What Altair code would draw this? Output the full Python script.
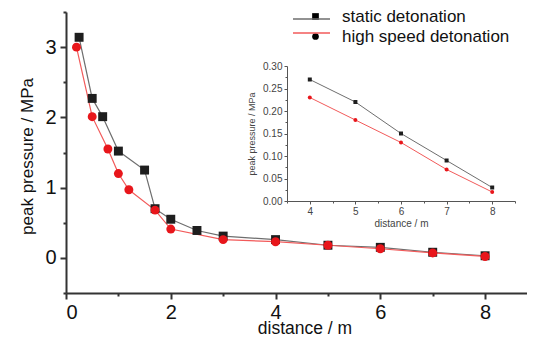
import altair as alt
import pandas as pd

series_names = ["static detonation", "high speed detonation"]
series_colors_line = ["#6e6e6e", "#f25a5a"]
series_colors_point = ["#1e1e1e", "#e8161b"]
series_shapes = ["square", "circle"]

static_x = [0.25, 0.5, 0.7, 1.0, 1.5, 1.7, 2.0, 2.5, 3, 4, 5, 6, 7, 8]
static_y = [3.14, 2.27, 2.01, 1.52, 1.25, 0.70, 0.55, 0.39, 0.31, 0.26, 0.18, 0.15, 0.08, 0.03]
high_x = [0.2, 0.5, 0.8, 1.0, 1.2, 1.7, 2.0, 3, 4, 5, 6, 7, 8]
high_y = [3.00, 2.01, 1.55, 1.20, 0.97, 0.68, 0.41, 0.26, 0.23, 0.18, 0.13, 0.07, 0.02]

inset_x = [4, 5, 6, 7, 8]
inset_static_y = [0.27, 0.22, 0.15, 0.09, 0.03]
inset_high_y = [0.23, 0.18, 0.13, 0.07, 0.02]

main_x_ticks = [0, 1, 2, 3, 4, 5, 6, 7, 8]
main_y_ticks = [-0.5, 0, 0.5, 1, 1.5, 2, 2.5, 3, 3.5]
inset_x_ticks = [3.5, 4, 4.5, 5, 5.5, 6, 6.5, 7, 7.5, 8, 8.5]
inset_y_ticks = [0, 0.025, 0.05, 0.075, 0.1, 0.125, 0.15, 0.175, 0.2, 0.225, 0.25, 0.275, 0.3]

NARROW = "Liberation Sans Narrow, Arial Narrow, Liberation Sans, Arial"
REG = "Liberation Sans, Arial"

main_df = pd.concat([
    pd.DataFrame({"x": static_x, "y": static_y, "series": series_names[0], "ord": 0}),
    pd.DataFrame({"x": high_x, "y": high_y, "series": series_names[1], "ord": 1}),
], ignore_index=True)
inset_df = pd.concat([
    pd.DataFrame({"x": inset_x, "y": inset_static_y, "series": series_names[0], "ord": 0}),
    pd.DataFrame({"x": inset_x, "y": inset_high_y, "series": series_names[1], "ord": 1}),
], ignore_index=True)

line_color_scale = alt.Scale(domain=series_names, range=series_colors_line)
fill_scale = alt.Scale(domain=series_names, range=series_colors_point)
shape_scale = alt.Scale(domain=series_names, range=series_shapes)

main_x_axis = alt.Axis(
    values=main_x_ticks, grid=False, title="distance / m",
    labelExpr="datum.value % 2 == 0 ? format(datum.value, 'd') : ''",
    tickSize={"condition": {"test": "datum.value % 2 == 0", "value": 6}, "value": 3},
    labelFont=NARROW, labelFontSize=20, labelColor="#111", labelPadding=3,
    titleFont=REG, titleFontSize=17.5, titleFontWeight="normal", titleColor="#111",
    titleX=238.5, titleY=40, titleBaseline="alphabetic",
    domainColor="#333", domainWidth=2, tickColor="#333", tickWidth=2,
)
main_y_axis = alt.Axis(
    values=main_y_ticks, grid=False, title="peak pressure / MPa",
    labelExpr="datum.value % 1 == 0 ? format(datum.value, 'd') : ''",
    tickSize={"condition": {"test": "datum.value % 1 == 0", "value": 6}, "value": 3},
    labelFont=NARROW, labelFontSize=20, labelColor="#111", labelPadding=4,
    titleFont=REG, titleFontSize=17, titleFontWeight="normal", titleColor="#111",
    titleX=-39, titleY=144, titleBaseline="middle",
    domainColor="#333", domainWidth=2, tickColor="#333", tickWidth=2,
)

mx = alt.X("x:Q", scale=alt.Scale(domain=[0, 8.8], nice=False), axis=main_x_axis)
my = alt.Y("y:Q", scale=alt.Scale(domain=[-0.5, 3.5], nice=False, zero=False), axis=main_y_axis)

main_line = alt.Chart(main_df).mark_line(strokeWidth=1.2).encode(
    x=mx, y=my, detail="series:N", order="x:Q",
    color=alt.Color("series:N", scale=line_color_scale, legend=alt.Legend(
        orient="none", legendX=234.5, legendY=-4, direction="vertical", title=None,
        symbolType="M-1.85,0H1.85", symbolSize=400, symbolStrokeWidth=1.3,
        labelExpr="''", labelFontSize=1, labelOffset=0,
        rowPadding=0, padding=0, symbolOffset=0,
    )),
)
point_legend = dict(
    orient="none", legendX=241, legendY=-4, direction="vertical", title=None,
    symbolSize=45, labelFont=REG, labelFontSize=17, labelColor="#111", labelOffset=18,
    labelLimit=300, rowPadding=2, padding=0, symbolOffset=0, symbolStrokeWidth=0,
)
main_points = alt.Chart(main_df).mark_point(filled=True, opacity=1, strokeWidth=0).encode(
    x=mx, y=my, order="ord:Q",
    fill=alt.Fill("series:N", scale=fill_scale, legend=alt.Legend(**point_legend)),
    shape=alt.Shape("series:N", scale=shape_scale, legend=alt.Legend(**point_legend)),
    size=alt.value(80),
)
main = alt.layer(main_line, main_points)

inset_x_axis = alt.Axis(
    orient="bottom", offset=-92, values=inset_x_ticks, grid=False, title="distance / m",
    labelExpr="datum.value % 1 == 0 ? format(datum.value, 'd') : ''",
    tickSize={"condition": {"test": "datum.value % 1 == 0", "value": 3}, "value": 2},
    labelFont=NARROW, labelFontSize=10, labelColor="#444", labelPadding=2,
    titleFont=NARROW, titleFontSize=10, titleFontWeight="normal", titleColor="#444", titlePadding=2,
    domainColor="#555", domainWidth=1, tickColor="#555", tickWidth=1,
)
inset_y_axis = alt.Axis(
    orient="left", offset=-221, values=inset_y_ticks, grid=False, title="peak pressure / MPa",
    labelExpr="round(datum.value * 1000) % 50 == 0 ? format(datum.value, '.2f') : ''",
    tickSize={"condition": {"test": "round(datum.value * 1000) % 50 == 0", "value": 3}, "value": 2},
    labelFont=NARROW, labelFontSize=10, labelColor="#444", labelPadding=2,
    titleFont=NARROW, titleFontSize=9, titleFontWeight="normal", titleColor="#444", titlePadding=6,
    domainColor="#555", domainWidth=1, tickColor="#555", tickWidth=1,
)
ix = alt.X("x:Q", scale=alt.Scale(domain=[3.5, 8.5], range=[221, 449], nice=False), axis=inset_x_axis)
iy = alt.Y("y:Q", scale=alt.Scale(domain=[0, 0.3], range=[189, 54], nice=False), axis=inset_y_axis)

inset_line = alt.Chart(inset_df).mark_line(strokeWidth=1).encode(
    x=ix, y=iy, detail="series:N", order="x:Q",
    color=alt.Color("series:N", scale=line_color_scale, legend=None),
)
inset_points = alt.Chart(inset_df).mark_point(filled=True, opacity=1, strokeWidth=0).encode(
    x=ix, y=iy,
    fill=alt.Fill("series:N", scale=fill_scale, legend=None),
    shape=alt.Shape("series:N", scale=shape_scale, legend=None),
    size=alt.value(16),
)
inset = alt.layer(inset_line, inset_points)

chart = alt.layer(main, inset).resolve_scale(x="independent", y="independent").resolve_legend(
    color="independent", fill="independent"
).properties(
    width=461, height=281,
    autosize=alt.AutoSizeParams(type="none"),
    padding={"left": 58, "top": 4, "right": 0, "bottom": 41},
    background="white",
).configure_view(stroke=None)

chart.save("out.html", embed_options={"renderer": "svg", "actions": False})
